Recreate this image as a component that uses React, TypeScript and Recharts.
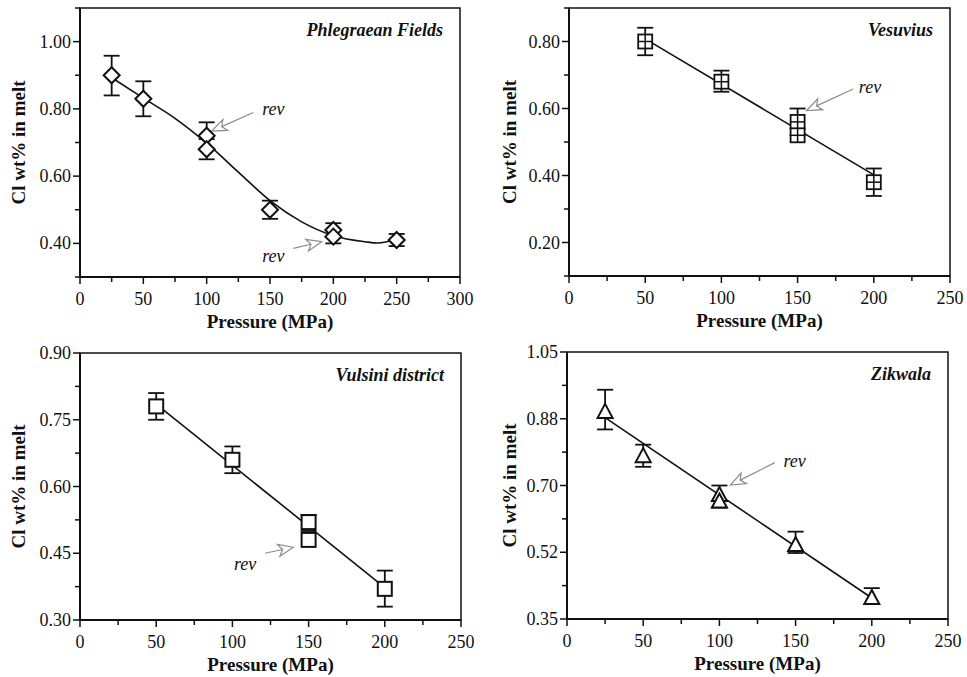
import React from 'react';
import {
  ComposedChart,
  Line,
  Scatter,
  ErrorBar,
  XAxis,
  YAxis,
  ReferenceArea,
  ReferenceLine,
  ReferenceDot,
} from 'recharts';

const FONT = '"Liberation Serif", "Times New Roman", serif';
const INK = '#111';
const ARROW = '#8c8c8c';

// Phlegraean Fields
const pfPoints = [
  { p: 25, cl: 0.9, err: [0.06, 0.058] },
  { p: 50, cl: 0.83, err: [0.052, 0.052] },
  { p: 100, cl: 0.72, err: [0.04, 0.04] },
  { p: 100, cl: 0.68, err: [0.03, 0.03] },
  { p: 150, cl: 0.5, err: [0.027, 0.027] },
  { p: 200, cl: 0.44, err: [0.02, 0.02] },
  { p: 200, cl: 0.42, err: [0.02, 0.02] },
  { p: 250, cl: 0.41, err: [0.018, 0.018] },
];
const pfCurve = [
  { p: 25, cl: 0.893 },
  { p: 50, cl: 0.832 },
  { p: 75, cl: 0.772 },
  { p: 100, cl: 0.698 },
  { p: 125, cl: 0.612 },
  { p: 150, cl: 0.527 },
  { p: 175, cl: 0.464 },
  { p: 200, cl: 0.423 },
  { p: 225, cl: 0.405 },
  { p: 235, cl: 0.401 },
  { p: 250, cl: 0.413 },
];
const pfXTicks = [0, 25, 50, 75, 100, 125, 150, 175, 200, 225, 250, 275, 300];
const pfXLabels = ['0', '', '50', '', '100', '', '150', '', '200', '', '250', '', '300'];
const pfYTicks = [0.3, 0.4, 0.5, 0.6, 0.7, 0.8, 0.9, 1.0, 1.1];
const pfYLabels = ['', '0.40', '', '0.60', '', '0.80', '', '1.00', ''];

// Vesuvius
const vePoints = [
  { p: 50, cl: 0.8, err: [0.041, 0.041] },
  { p: 100, cl: 0.68, err: [0.03, 0.033] },
  { p: 150, cl: 0.56, err: [0.04, 0.04] },
  { p: 150, cl: 0.52, err: null },
  { p: 200, cl: 0.38, err: [0.041, 0.041] },
];
const veFit = [
  { p: 50, cl: 0.808 },
  { p: 200, cl: 0.402 },
];
const w250Ticks = [0, 25, 50, 75, 100, 125, 150, 175, 200, 225, 250];
const w250Labels = ['0', '', '50', '', '100', '', '150', '', '200', '', '250'];
const veYTicks = [0.1, 0.2, 0.3, 0.4, 0.5, 0.6, 0.7, 0.8, 0.9];
const veYLabels = ['', '0.20', '', '0.40', '', '0.60', '', '0.80', ''];

// Vulsini district
const vuPoints = [
  { p: 50, cl: 0.78, err: [0.03, 0.03] },
  { p: 100, cl: 0.66, err: [0.03, 0.03] },
  { p: 150, cl: 0.52, err: [0.02, 0.016] },
  { p: 150, cl: 0.48, err: null },
  { p: 200, cl: 0.37, err: [0.04, 0.041] },
];
const vuFit = [
  { p: 50, cl: 0.785 },
  { p: 200, cl: 0.373 },
];
const vuYTicks = [0.3, 0.375, 0.45, 0.525, 0.6, 0.675, 0.75, 0.825, 0.9];
const vuYLabels = ['0.30', '', '0.45', '', '0.60', '', '0.75', '', '0.90'];

// Zikwala
const zkPoints = [
  { p: 25, cl: 0.893, err: [0.046, 0.058] },
  { p: 50, cl: 0.777, err: [0.028, 0.03] },
  { p: 100, cl: 0.675, err: [0.033, 0.025] },
  { p: 100, cl: 0.658, err: null },
  { p: 150, cl: 0.544, err: [0.021, 0.035] },
  { p: 200, cl: 0.405, err: [0.016, 0.026] },
];
const zkFit = [
  { p: 25, cl: 0.878 },
  { p: 200, cl: 0.405 },
];
const zkYTicks = [0.35, 0.4375, 0.525, 0.6125, 0.7, 0.7875, 0.875, 0.9625, 1.05];
const zkYLabels = ['0.35', '', '0.52', '', '0.70', '', '0.88', '', '1.05'];

// "rev" annotations: arrow tail -> tip, and text position (data coords)
const pfArrows = [
  { from: { x: 136.8, y: 0.789 }, to: { x: 103.9, y: 0.734 }, text: { x: 152.6, y: 0.8 } },
  { from: { x: 168.4, y: 0.385 }, to: { x: 190.8, y: 0.405 }, text: { x: 152.6, y: 0.365 } },
];
const veArrows = [{ from: { x: 186.5, y: 0.658 }, to: { x: 155.9, y: 0.594 }, text: { x: 197.5, y: 0.664 } }];
const vuArrows = [{ from: { x: 121.4, y: 0.45 }, to: { x: 140, y: 0.4635 }, text: { x: 108.3, y: 0.426 } }];
const zkArrows = [{ from: { x: 136.3, y: 0.76 }, to: { x: 107.2, y: 0.701 }, text: { x: 149.4, y: 0.766 } }];

function labelFor(ticks: number[], labels: string[], v: number) {
  const i = ticks.findIndex((t) => Math.abs(t - v) < 1e-6);
  return i >= 0 ? labels[i] : '';
}

function XTick(props: any) {
  const { x, y, payload, ticks, labels } = props;
  const label = labelFor(ticks, labels, payload.value);
  const major = label !== '';
  return (
    <g>
      <line x1={x} y1={y} x2={x} y2={y + (major ? 7 : 5)} stroke={INK} strokeWidth={1.5} />
      {major && (
        <text x={x} y={y + 28} textAnchor="middle" fontSize={18} fontFamily={FONT} fill={INK}>
          {label}
        </text>
      )}
    </g>
  );
}

function YTick(props: any) {
  const { x, y, payload, ticks, labels } = props;
  const label = labelFor(ticks, labels, payload.value);
  const major = label !== '';
  return (
    <g>
      <line x1={x} y1={y} x2={x - (major ? 7 : 5)} y2={y} stroke={INK} strokeWidth={1.5} />
      {major && (
        <text x={x - 9} y={y + 6} textAnchor="end" fontSize={18} fontFamily={FONT} fill={INK}>
          {label}
        </text>
      )}
    </g>
  );
}

function Marker(props: any) {
  const { cx, cy, kind } = props;
  if (cx == null || cy == null) return null;
  if (kind === 'diamond') {
    const r = 8;
    return (
      <polygon
        points={`${cx},${cy - r} ${cx + r},${cy} ${cx},${cy + r} ${cx - r},${cy}`}
        fill="#fff"
        stroke={INK}
        strokeWidth={2}
      />
    );
  }
  if (kind === 'crossSquare') {
    const h = 7;
    return (
      <g>
        <rect x={cx - h} y={cy - h} width={2 * h} height={2 * h} fill="#fff" stroke={INK} strokeWidth={1.8} />
        <line x1={cx - h} y1={cy} x2={cx + h} y2={cy} stroke={INK} strokeWidth={1.5} />
        <line x1={cx} y1={cy - h} x2={cx} y2={cy + h} stroke={INK} strokeWidth={1.5} />
      </g>
    );
  }
  if (kind === 'square') {
    const h = 7;
    return <rect x={cx - h} y={cy - h} width={2 * h} height={2 * h} fill="#fff" stroke={INK} strokeWidth={2} />;
  }
  // triangle
  return (
    <polygon
      points={`${cx},${cy - 8} ${cx + 7.5},${cy + 6} ${cx - 7.5},${cy + 6}`}
      fill="#fff"
      stroke={INK}
      strokeWidth={2}
    />
  );
}

function HollowArrow(props: any) {
  const { x1, y1, x2, y2 } = props;
  if ([x1, y1, x2, y2].some((v) => v == null || isNaN(v))) return null;
  const dx = x2 - x1;
  const dy = y2 - y1;
  const len = Math.hypot(dx, dy) || 1;
  const ux = dx / len;
  const uy = dy / len;
  const nx = -uy;
  const ny = ux;
  const headLen = 15;
  const headW = 6;
  const notch = 4;
  const bx = x2 - ux * headLen;
  const by = y2 - uy * headLen;
  const kx = bx + ux * notch;
  const ky = by + uy * notch;
  return (
    <g>
      <line x1={x1} y1={y1} x2={kx} y2={ky} stroke={ARROW} strokeWidth={1.2} />
      <polygon
        points={`${x2},${y2} ${bx + nx * headW},${by + ny * headW} ${kx},${ky} ${bx - nx * headW},${by - ny * headW}`}
        fill="#fff"
        stroke={ARROW}
        strokeWidth={1.2}
      />
    </g>
  );
}

interface PanelProps {
  left: number;
  top: number;
  width: number;
  height: number;
  plotLeft: number;
  plotRight: number;
  plotTop: number;
  plotBottom: number;
  yLabelGap: number;
  xDomain: [number, number];
  xTicks: number[];
  xLabels: string[];
  yDomain: [number, number];
  yTicks: number[];
  yLabels: string[];
  title: string;
  points: any[];
  fit: any[];
  fitType: 'monotone' | 'linear';
  kind: string;
  arrows: any[];
}

function Panel(cfg: PanelProps) {
  const margin = { top: cfg.plotTop, right: cfg.width - cfg.plotRight, bottom: 0, left: 0 };
  return (
    <div style={{ position: 'absolute', left: cfg.left, top: cfg.top }}>
      <ComposedChart width={cfg.width} height={cfg.height} margin={margin}>
        <XAxis
          dataKey="p"
          type="number"
          domain={cfg.xDomain}
          ticks={cfg.xTicks}
          interval={0}
          allowDataOverflow
          height={cfg.height - cfg.plotBottom}
          tickSize={0}
          tickMargin={0}
          tickLine={false}
          axisLine={{ stroke: INK, strokeWidth: 2 }}
          tick={(p: any) => <XTick {...p} ticks={cfg.xTicks} labels={cfg.xLabels} />}
          label={(p: any) => {
            const vb = p.viewBox;
            return (
              <text
                x={vb.x + vb.width / 2}
                y={vb.y + 51}
                textAnchor="middle"
                fontSize={19}
                fontWeight="bold"
                fontFamily={FONT}
                fill={INK}
              >
                Pressure (MPa)
              </text>
            );
          }}
        />
        <YAxis
          dataKey="cl"
          type="number"
          domain={cfg.yDomain}
          ticks={cfg.yTicks}
          interval={0}
          allowDataOverflow
          width={cfg.plotLeft}
          tickSize={0}
          tickMargin={0}
          tickLine={false}
          axisLine={{ stroke: INK, strokeWidth: 2 }}
          tick={(p: any) => <YTick {...p} ticks={cfg.yTicks} labels={cfg.yLabels} />}
          label={(p: any) => {
            const vb = p.viewBox;
            const lx = vb.x + vb.width - cfg.yLabelGap;
            const ly = vb.y + vb.height / 2;
            return (
              <text
                x={lx}
                y={ly}
                transform={`rotate(-90, ${lx}, ${ly})`}
                textAnchor="middle"
                fontSize={19}
                fontWeight="bold"
                fontFamily={FONT}
                fill={INK}
              >
                Cl wt% in melt
              </text>
            );
          }}
        />
        <ReferenceArea
          x1={cfg.xDomain[0]}
          x2={cfg.xDomain[1]}
          y1={cfg.yDomain[0]}
          y2={cfg.yDomain[1]}
          fill="none"
          fillOpacity={0}
          stroke={INK}
          strokeWidth={1.5}
          label={(p: any) => {
            const vb = p.viewBox;
            return (
              <text
                x={vb.x + vb.width - 17}
                y={vb.y + 28}
                textAnchor="end"
                fontSize={18}
                fontWeight="bold"
                fontStyle="italic"
                fontFamily={FONT}
                fill={INK}
              >
                {cfg.title}
              </text>
            );
          }}
        />
        {cfg.arrows.map((a, i) => (
          <ReferenceLine
            key={`arrow-${i}`}
            segment={[a.from, a.to]}
            ifOverflow="visible"
            stroke={ARROW}
            shape={(p: any) => <HollowArrow {...p} />}
          />
        ))}
        {cfg.arrows.map((a, i) => (
          <ReferenceDot
            key={`rev-${i}`}
            x={a.text.x}
            y={a.text.y}
            r={0}
            fill="none"
            stroke="none"
            ifOverflow="visible"
            label={{
              value: 'rev',
              position: 'center',
              fontSize: 18,
              fontStyle: 'italic',
              fontFamily: FONT,
              fill: INK,
            }}
          />
        ))}
        <Line
          data={cfg.fit}
          dataKey="cl"
          type={cfg.fitType}
          stroke={INK}
          strokeWidth={1.6}
          dot={false}
          activeDot={false}
          isAnimationActive={false}
        />
        <Scatter
          data={cfg.points}
          dataKey="cl"
          isAnimationActive={false}
          shape={(p: any) => <Marker {...p} kind={cfg.kind} />}
        >
          <ErrorBar dataKey="err" direction="y" width={8} stroke={INK} strokeWidth={1.8} />
        </Scatter>
      </ComposedChart>
    </div>
  );
}

export default function App() {
  return (
    <div
      style={{
        position: 'absolute',
        left: 0,
        top: 0,
        width: 967,
        height: 677,
        background: '#fff',
        overflow: 'hidden',
      }}
    >
      <Panel
        left={0}
        top={0}
        width={480}
        height={340}
        plotLeft={80}
        plotRight={460}
        plotTop={8}
        plotBottom={277}
        yLabelGap={55}
        xDomain={[0, 300]}
        xTicks={pfXTicks}
        xLabels={pfXLabels}
        yDomain={[0.3, 1.1]}
        yTicks={pfYTicks}
        yLabels={pfYLabels}
        title="Phlegraean Fields"
        points={pfPoints}
        fit={pfCurve}
        fitType="monotone"
        kind="diamond"
        arrows={pfArrows}
      />
      <Panel
        left={480}
        top={0}
        width={487}
        height={340}
        plotLeft={89}
        plotRight={470}
        plotTop={8}
        plotBottom={276}
        yLabelGap={53}
        xDomain={[0, 250]}
        xTicks={w250Ticks}
        xLabels={w250Labels}
        yDomain={[0.1, 0.9]}
        yTicks={veYTicks}
        yLabels={veYLabels}
        title="Vesuvius"
        points={vePoints}
        fit={veFit}
        fitType="linear"
        kind="crossSquare"
        arrows={veArrows}
      />
      <Panel
        left={0}
        top={340}
        width={480}
        height={337}
        plotLeft={80}
        plotRight={461}
        plotTop={13}
        plotBottom={280}
        yLabelGap={55}
        xDomain={[0, 250]}
        xTicks={w250Ticks}
        xLabels={w250Labels}
        yDomain={[0.3, 0.9]}
        yTicks={vuYTicks}
        yLabels={vuYLabels}
        title="Vulsini district"
        points={vuPoints}
        fit={vuFit}
        fitType="linear"
        kind="square"
        arrows={vuArrows}
      />
      <Panel
        left={480}
        top={340}
        width={487}
        height={337}
        plotLeft={87}
        plotRight={468}
        plotTop={12}
        plotBottom={279}
        yLabelGap={51}
        xDomain={[0, 250]}
        xTicks={w250Ticks}
        xLabels={w250Labels}
        yDomain={[0.35, 1.05]}
        yTicks={zkYTicks}
        yLabels={zkYLabels}
        title="Zikwala"
        points={zkPoints}
        fit={zkFit}
        fitType="linear"
        kind="triangle"
        arrows={zkArrows}
      />
    </div>
  );
}
